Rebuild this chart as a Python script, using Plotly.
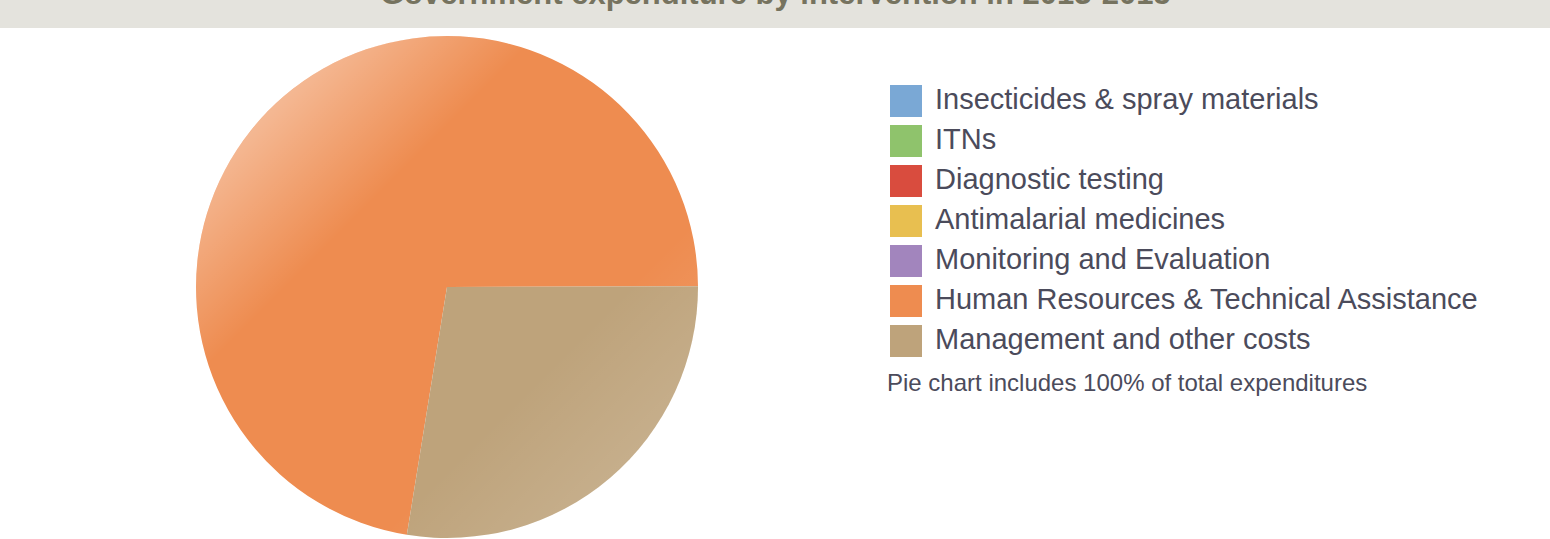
import base64

import plotly.graph_objects as go

W, H = 1550, 539

TITLE = "Government expenditure by intervention in 2013-2015"
NOTE = "Pie chart includes 100% of total expenditures"

interventions = [
    "Insecticides & spray materials",
    "ITNs",
    "Diagnostic testing",
    "Antimalarial medicines",
    "Monitoring and Evaluation",
    "Human Resources & Technical Assistance",
    "Management and other costs",
]
share_pct = [0, 0, 0, 0, 0, 72.4, 27.6]
colors = ["#7aa8d5", "#8fc36c", "#d94c3e", "#e8bf50", "#a285bd", "#ee8c50", "#bea37b"]

TEXT = "#4b4b5b"
FONT = "Liberation Sans, Arial, Helvetica, sans-serif"

PIE_X = (196, 698)
PIE_Y = (36, 538)


def px_x(x):
    return x / W


def px_y(y):
    return 1 - y / H


fig = go.Figure(
    go.Pie(
        labels=interventions,
        values=share_pct,
        marker=dict(colors=colors, line=dict(width=0)),
        sort=False,
        direction="clockwise",
        rotation=189.2,
        textinfo="none",
        hoverinfo="label+percent",
        showlegend=False,
        domain=dict(x=[px_x(PIE_X[0]), px_x(PIE_X[1])],
                    y=[px_y(PIE_Y[1]), px_y(PIE_Y[0])]),
    )
)

# soft diagonal sheen on top of the pie, like the original graphic
sheen_svg = (
    '<svg xmlns="http://www.w3.org/2000/svg" viewBox="0 0 502 502" width="502" height="502">'
    '<defs><linearGradient id="g" x1="0" y1="0" x2="1" y2="1">'
    '<stop offset="0.15" stop-color="#fff" stop-opacity="0.38"/>'
    '<stop offset="0.34" stop-color="#fff" stop-opacity="0"/>'
    '<stop offset="0.68" stop-color="#fff" stop-opacity="0"/>'
    '<stop offset="0.85" stop-color="#fff" stop-opacity="0.12"/>'
    '</linearGradient></defs>'
    '<circle cx="251" cy="251" r="251" fill="url(#g)"/></svg>'
)
sheen_uri = "data:image/svg+xml;base64," + base64.b64encode(sheen_svg.encode()).decode()

shapes = [
    # grey title band
    dict(type="rect", xref="paper", yref="paper", x0=0, x1=1,
         y0=px_y(28), y1=1, fillcolor="#e4e3dd", line=dict(width=0), layer="below"),
]
annotations = [
    dict(text=f"<b>{TITLE}</b>", xref="paper", yref="paper", x=0.5, y=px_y(-7),
         xanchor="center", yanchor="middle", showarrow=False,
         font=dict(size=31, color="#76735f", family=FONT)),
]

# hand-built legend with large swatches
for i, (name, col) in enumerate(zip(interventions, colors)):
    top = 85 + 40 * i
    shapes.append(dict(type="rect", xref="paper", yref="paper",
                       x0=px_x(890), x1=px_x(922), y0=px_y(top + 32), y1=px_y(top),
                       fillcolor=col, line=dict(width=0)))
    annotations.append(dict(text=name, xref="paper", yref="paper",
                            x=px_x(933), y=px_y(top + 14), xanchor="left", yanchor="middle",
                            showarrow=False, font=dict(size=29, color=TEXT, family=FONT)))

annotations.append(dict(text=NOTE, xref="paper", yref="paper",
                        x=px_x(885), y=px_y(382), xanchor="left", yanchor="middle",
                        showarrow=False, font=dict(size=24, color=TEXT, family=FONT)))

fig.update_layout(
    width=W, height=H,
    margin=dict(l=0, r=0, t=0, b=0),
    paper_bgcolor="white",
    plot_bgcolor="white",
    shapes=shapes,
    annotations=annotations,
    images=[dict(source=sheen_uri, xref="paper", yref="paper",
                 x=px_x(PIE_X[0]), y=px_y(PIE_Y[0]),
                 sizex=px_x(PIE_X[1]) - px_x(PIE_X[0]),
                 sizey=px_y(PIE_Y[0]) - px_y(PIE_Y[1]),
                 xanchor="left", yanchor="top", sizing="stretch", layer="above")],
)

fig.write_html("out.html", config={"displayModeBar": False},
               post_script="document.body.style.margin='0';")
